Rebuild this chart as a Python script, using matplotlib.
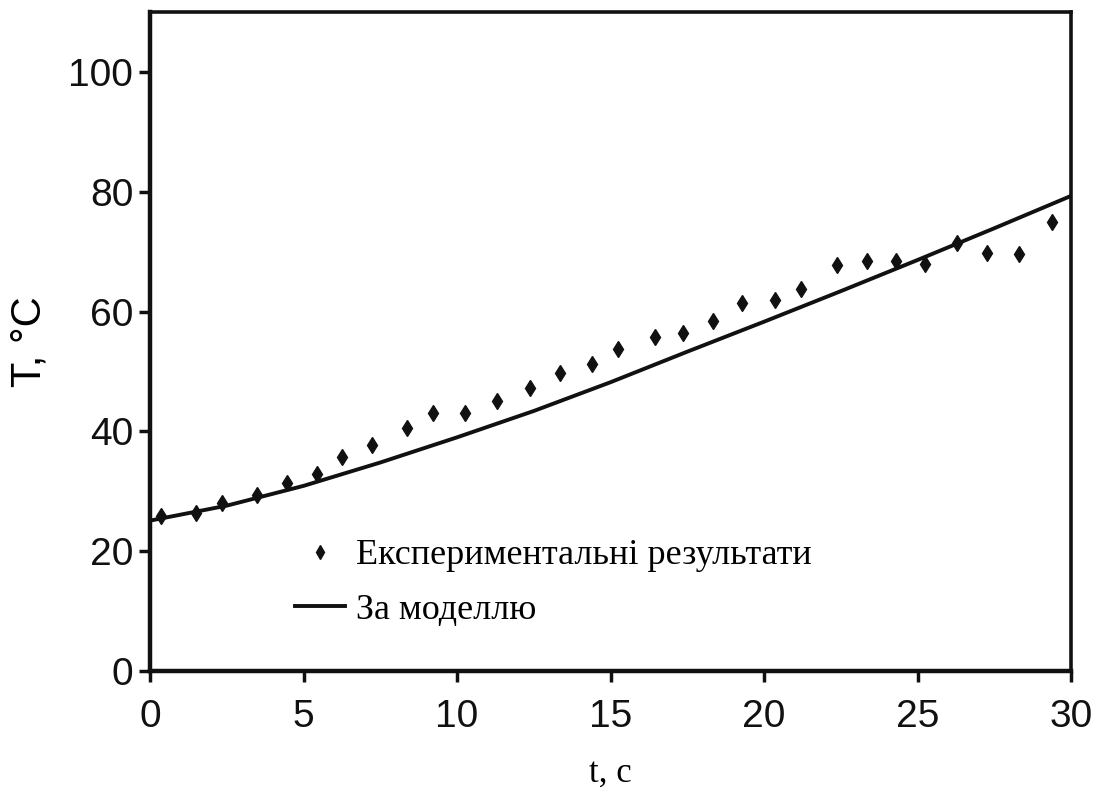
import matplotlib
matplotlib.use("Agg")
import matplotlib.pyplot as plt

# Experimental data (t, s ; T, °C)
t_exp = [0.35, 1.50, 2.35, 3.49, 4.46, 5.44, 6.25, 7.23, 8.37, 9.22,
         10.26, 11.30, 12.39, 13.34, 14.40, 15.24, 16.44, 17.36, 18.33, 19.28,
         20.36, 21.21, 22.39, 23.34, 24.30, 25.23, 26.29, 27.26, 28.31, 29.38]
T_exp = [25.8, 26.4, 28.1, 29.4, 31.4, 32.8, 35.8, 37.8, 40.6, 43.0,
         43.1, 45.0, 47.3, 49.7, 51.3, 53.7, 55.7, 56.4, 58.4, 61.4,
         62.0, 63.8, 67.8, 68.5, 68.4, 67.9, 71.5, 69.7, 69.6, 74.9]

# Model curve
t_model = [0, 2.5, 5, 7.5, 10, 12.5, 15, 17.5, 20, 22.5, 25, 27.5, 30]
T_model = [25.1, 27.6, 30.9, 34.8, 39.0, 43.4, 48.2, 53.3, 58.3, 63.4, 68.6, 73.9, 79.3]

x_ticks = [0, 5, 10, 15, 20, 25, 30]
y_ticks = [0, 20, 40, 60, 80, 100]

label_exp = "Експериментальні результати"
label_model = "За моделлю"

fig = plt.figure(figsize=(11.05, 8.01), dpi=100)
ax = fig.add_axes([150/1105, 130/801, 921/1105, 659/801])

ax.plot(t_exp, T_exp, linestyle="none", marker="d", markersize=8.5,
        color="#111111", label=label_exp)
ax.plot(t_model, T_model, color="#111111", linewidth=2.8, label=label_model)

ax.set_xlim(0, 30)
ax.set_ylim(0, 110)
ax.set_xticks(x_ticks)
ax.set_yticks(y_ticks)

sans = ["Liberation Sans", "DejaVu Sans"]
serif = ["Liberation Serif", "DejaVu Serif"]

ax.set_xticklabels([str(v) for v in x_ticks], family=sans, fontsize=28)
ax.set_yticklabels([str(v) for v in y_ticks], family=sans, fontsize=28)
ax.tick_params(axis="both", direction="out", length=8, width=2.5,
               colors="#111111")
ax.tick_params(axis="x", pad=12)
ax.tick_params(axis="y", pad=4)

for side in ["left", "bottom"]:
    ax.spines[side].set_linewidth(3.2)
for side in ["top", "right"]:
    ax.spines[side].set_linewidth(2.6)
for s in ax.spines.values():
    s.set_color("#111111")

ax.set_ylabel("T, °C", family=sans, fontsize=30, labelpad=14)
ax.set_xlabel("t, c", family=serif, fontsize=25, labelpad=16)

leg = ax.legend(loc="upper left", bbox_to_anchor=(0.157, 0.2005), frameon=False,
                prop={"family": serif, "size": 26}, handlelength=1.4,
                handletextpad=0.3, labelspacing=0.6, borderpad=0,
                borderaxespad=0, markerscale=0.8)

fig.savefig("out.png", dpi=100)
